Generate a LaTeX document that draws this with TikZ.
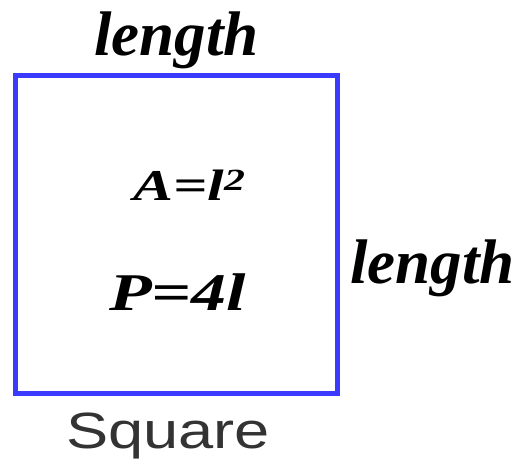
\documentclass[tikz,border=0pt]{standalone}
\usepackage{fontspec}
\setmainfont{Liberation Serif}
\setsansfont{Liberation Sans}
\usepackage{tikz}
\usetikzlibrary{positioning}

\definecolor{sqblue}{RGB}{59,59,255}
\definecolor{capgray}{RGB}{51,51,51}

\begin{document}
\begin{tikzpicture}[x=1pt, y=-1pt]
  \tikzstyle{side}=[font=\bfseries\itshape\fontsize{63}{63}\selectfont, inner sep=0pt, anchor=base]
  \tikzstyle{formula}=[font=\bfseries\itshape\fontsize{44}{44}\selectfont, inner sep=0pt, anchor=base, xscale=1.36, transform shape]
  \useasboundingbox (0,0) rectangle (521,466);
  \node[draw=sqblue, line width=5.5pt, inner sep=0pt, minimum width=322pt, minimum height=318pt] (sq) at (176.5,234.5) {};
  \node[side] (top) at (176.5,55) {length};
  \node[side] (right) at (432.5,283) {length};
  \node[formula] (area) at (189.5,200) {A=l\textsuperscript{2}};
  \node[formula, font=\bfseries\itshape\fontsize{53}{53}\selectfont, xscale=0.97] (perim) at (177.5,310) {P=4l};
  \node[font=\sffamily\fontsize{51}{51}\selectfont, text=capgray, inner sep=0pt, anchor=base, xscale=1.24, transform shape] (name) at (168,448) {Square};
\end{tikzpicture}
\end{document}
